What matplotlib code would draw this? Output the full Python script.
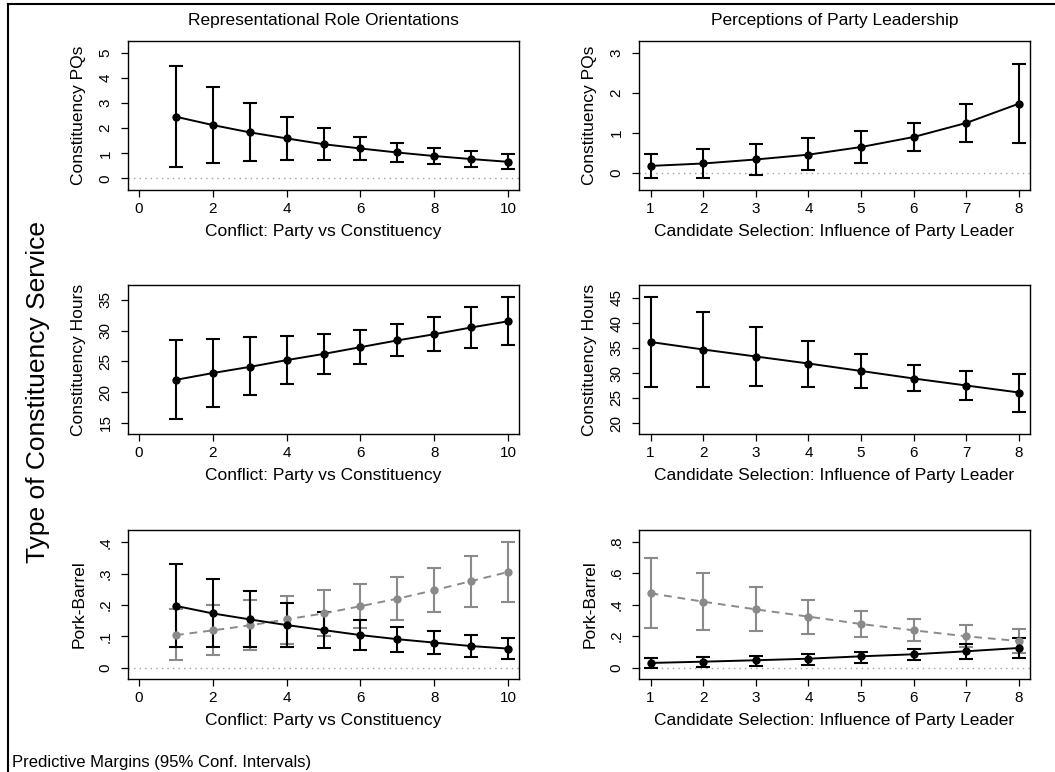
import numpy as np
import matplotlib.pyplot as plt
from matplotlib.ticker import FuncFormatter
from matplotlib.lines import Line2D

plt.rcParams["font.family"] = ["Liberation Sans", "DejaVu Sans"]

# --- data ------------------------------------------------------------------
conflict_x = np.arange(1, 11)
leader_x = np.arange(1, 9)

# Constituency PQs vs conflict
pq_conf = [2.45, 2.12, 1.83, 1.59, 1.36, 1.19, 1.03, 0.89, 0.77, 0.66]
pq_conf_lo = [0.46, 0.61, 0.70, 0.74, 0.75, 0.73, 0.66, 0.57, 0.46, 0.36]
pq_conf_hi = [4.47, 3.64, 2.99, 2.43, 2.01, 1.65, 1.40, 1.22, 1.07, 0.96]

# Constituency PQs vs party leader influence
pq_lead = [0.18, 0.24, 0.34, 0.46, 0.65, 0.90, 1.25, 1.73]
pq_lead_lo = [-0.12, -0.11, -0.05, 0.07, 0.26, 0.54, 0.78, 0.76]
pq_lead_hi = [0.48, 0.60, 0.73, 0.88, 1.04, 1.26, 1.71, 2.71]

# Constituency hours vs conflict
hrs_conf = [22.0, 23.1, 24.1, 25.2, 26.2, 27.3, 28.4, 29.4, 30.5, 31.5]
hrs_conf_lo = [15.6, 17.6, 19.5, 21.3, 23.0, 24.6, 25.8, 26.7, 27.2, 27.6]
hrs_conf_hi = [28.4, 28.6, 28.9, 29.1, 29.5, 30.1, 31.0, 32.2, 33.8, 35.4]

# Constituency hours vs party leader influence
hrs_lead = [36.2, 34.7, 33.3, 31.9, 30.4, 28.9, 27.5, 26.1]
hrs_lead_lo = [27.3, 27.3, 27.4, 27.3, 27.1, 26.4, 24.7, 22.3]
hrs_lead_hi = [45.2, 42.2, 39.3, 36.5, 33.8, 31.7, 30.4, 29.9]

# Pork-barrel vs conflict (black and grey series)
pork_conf_a = [0.197, 0.173, 0.154, 0.136, 0.120, 0.104, 0.091, 0.080, 0.069, 0.061]
pork_conf_a_lo = [0.066, 0.067, 0.067, 0.067, 0.064, 0.058, 0.050, 0.044, 0.035, 0.028]
pork_conf_a_hi = [0.330, 0.282, 0.243, 0.206, 0.177, 0.151, 0.131, 0.116, 0.103, 0.095]
pork_conf_b = [0.104, 0.119, 0.135, 0.154, 0.173, 0.196, 0.220, 0.247, 0.276, 0.305]
pork_conf_b_lo = [0.023, 0.039, 0.056, 0.076, 0.101, 0.128, 0.152, 0.176, 0.195, 0.210]
pork_conf_b_hi = [0.186, 0.199, 0.215, 0.230, 0.247, 0.266, 0.289, 0.318, 0.356, 0.401]

# Pork-barrel vs party leader influence
pork_lead_a = [0.030, 0.038, 0.047, 0.057, 0.072, 0.085, 0.104, 0.125]
pork_lead_a_lo = [0.000, 0.006, 0.013, 0.019, 0.032, 0.047, 0.057, 0.061]
pork_lead_a_hi = [0.059, 0.068, 0.076, 0.087, 0.102, 0.121, 0.148, 0.188]
pork_lead_b = [0.472, 0.419, 0.370, 0.324, 0.277, 0.237, 0.199, 0.169]
pork_lead_b_lo = [0.254, 0.241, 0.231, 0.216, 0.197, 0.167, 0.133, 0.095]
pork_lead_b_hi = [0.696, 0.603, 0.510, 0.430, 0.360, 0.307, 0.269, 0.243]

conf_ticks = [0, 2, 4, 6, 8, 10]
lead_ticks = [1, 2, 3, 4, 5, 6, 7, 8]
conf_xlabel = "Conflict: Party vs Constituency"
lead_xlabel = "Candidate Selection: Influence of Party Leader"

BLACK = "black"
GREY = "#8a8a8a"


def stata_fmt(v, pos):
    if abs(v) < 1e-9:
        return "0"
    s = f"{v:.1f}"
    return s.replace("0.", ".")


def draw_series(ax, x, y, lo, hi, color, ls):
    y = np.asarray(y)
    err = [y - np.asarray(lo), np.asarray(hi) - y]
    ax.errorbar(x, y, yerr=err, fmt="none", ecolor=color, elinewidth=1.5,
                capsize=5, capthick=1.5, zorder=3)
    ax.plot(x, y, color=color, lw=1.4, ls=ls, marker="o", ms=6,
            markeredgewidth=0, zorder=4, dashes=(4, 3) if ls == "--" else (None, None))


def style_axis(ax, xlim, xticks, ylim, yticks, ylabel, xlabel, pork=False):
    ax.set_xlim(*xlim)
    ax.set_ylim(*ylim)
    ax.set_xticks(xticks)
    ax.set_yticks(yticks)
    ax.axhline(0, color="#a0a0a0", lw=1.0, ls=(0, (1, 3)), zorder=1)
    ax.tick_params(axis="both", direction="out", length=5, width=0.9,
                   labelsize=11, colors="black")
    ax.tick_params(axis="y", labelrotation=90, pad=6)
    for lab in ax.get_yticklabels():
        lab.set_va("center")
    if pork:
        ax.yaxis.set_major_formatter(FuncFormatter(stata_fmt))
    ax.set_ylabel(ylabel, fontsize=12.5, labelpad=9)
    ax.set_xlabel(xlabel, fontsize=12.5, labelpad=6)
    for sp in ax.spines.values():
        sp.set_linewidth(1.0)


fig = plt.figure(figsize=(10.55, 7.72), dpi=100)

L_left, R_left, colw = 128 / 1055, 639 / 1055, 391 / 1055
rowh = 149 / 772
bottoms = [1 - 190 / 772, 1 - 434 / 772, 1 - 679 / 772]

ax1 = fig.add_axes([L_left, bottoms[0], colw, rowh])
draw_series(ax1, conflict_x, pq_conf, pq_conf_lo, pq_conf_hi, BLACK, "-")
style_axis(ax1, (-0.3, 10.3), conf_ticks, (-0.46, 5.46), [0, 1, 2, 3, 4, 5],
           "Constituency PQs", conf_xlabel)

ax2 = fig.add_axes([R_left, bottoms[0], colw, rowh])
draw_series(ax2, leader_x, pq_lead, pq_lead_lo, pq_lead_hi, BLACK, "-")
style_axis(ax2, (0.78, 8.21), lead_ticks, (-0.42, 3.29), [0, 1, 2, 3],
           "Constituency PQs", lead_xlabel)

ax3 = fig.add_axes([L_left, bottoms[1], colw, rowh])
draw_series(ax3, conflict_x, hrs_conf, hrs_conf_lo, hrs_conf_hi, BLACK, "-")
style_axis(ax3, (-0.3, 10.3), conf_ticks, (13.2, 37.4), [15, 20, 25, 30, 35],
           "Constituency Hours", conf_xlabel)

ax4 = fig.add_axes([R_left, bottoms[1], colw, rowh])
draw_series(ax4, leader_x, hrs_lead, hrs_lead_lo, hrs_lead_hi, BLACK, "-")
style_axis(ax4, (0.78, 8.21), lead_ticks, (17.8, 47.6), [20, 25, 30, 35, 40, 45],
           "Constituency Hours", lead_xlabel)

ax5 = fig.add_axes([L_left, bottoms[2], colw, rowh])
draw_series(ax5, conflict_x, pork_conf_b, pork_conf_b_lo, pork_conf_b_hi, GREY, "--")
draw_series(ax5, conflict_x, pork_conf_a, pork_conf_a_lo, pork_conf_a_hi, BLACK, "-")
style_axis(ax5, (-0.3, 10.3), conf_ticks, (-0.036, 0.439), [0, 0.1, 0.2, 0.3, 0.4],
           "Pork-Barrel", conf_xlabel, pork=True)

ax6 = fig.add_axes([R_left, bottoms[2], colw, rowh])
draw_series(ax6, leader_x, pork_lead_b, pork_lead_b_lo, pork_lead_b_hi, GREY, "--")
draw_series(ax6, leader_x, pork_lead_a, pork_lead_a_lo, pork_lead_a_hi, BLACK, "-")
style_axis(ax6, (0.78, 8.21), lead_ticks, (-0.072, 0.874), [0, 0.2, 0.4, 0.6, 0.8],
           "Pork-Barrel", lead_xlabel, pork=True)

# column titles, overall y title, note
fig.text((128 + 519) / 2 / 1055, 1 - 21 / 772, "Representational Role Orientations",
         ha="center", va="center", fontsize=12.5)
fig.text((639 + 1031) / 2 / 1055, 1 - 21 / 772, "Perceptions of Party Leadership",
         ha="center", va="center", fontsize=12.5)
fig.text(38 / 1055, 1 - 392 / 772, "Type of Constituency Service", rotation=90,
         ha="center", va="center", fontsize=19)
fig.text(12 / 1055, 1 - 763 / 772, "Predictive Margins (95% Conf. Intervals)",
         ha="left", va="center", fontsize=12)

# outer frame (left and top edges visible)
fig.add_artist(Line2D([8 / 1055, 8 / 1055], [0, 1 - 4 / 772], color="black", lw=1.5,
                      transform=fig.transFigure))
fig.add_artist(Line2D([8 / 1055, 1], [1 - 4 / 772, 1 - 4 / 772], color="black", lw=1.5,
                      transform=fig.transFigure))

fig.savefig("out.png", dpi=100)
